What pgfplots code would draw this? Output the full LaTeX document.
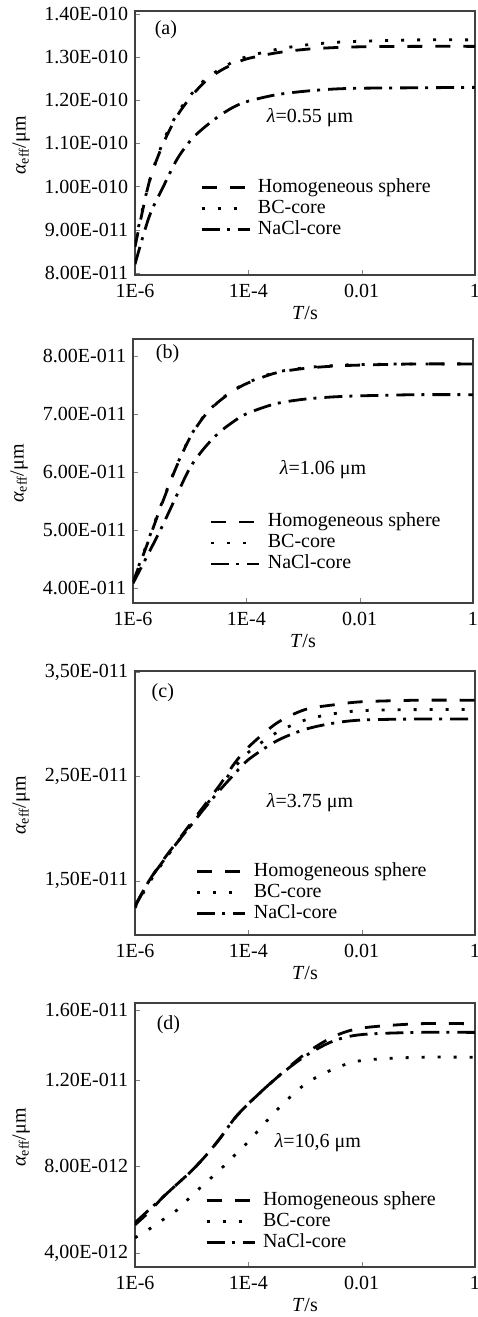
\documentclass[border=0pt]{standalone}
\usepackage{fontspec}
\setmainfont{Liberation Serif}
\usepackage{pgfplots}
\usepackage{pgfplotstable}
\pgfplotsset{compat=1.18}

\pgfplotstableread{
T hom bc nacl
1e-6 0.86 0.87 0.82
1.778e-6 1.01 1.01 0.93
3.162e-6 1.10 1.105 1.00
5.623e-6 1.165 1.17 1.065
1e-5 1.21 1.215 1.11
1.778e-5 1.245 1.25 1.14
3.162e-5 1.268 1.272 1.165
5.623e-5 1.285 1.29 1.185
1e-4 1.297 1.302 1.198
3.162e-4 1.31 1.318 1.213
1e-3 1.318 1.328 1.221
3.162e-3 1.322 1.334 1.226
1e-2 1.324 1.337 1.228
1e-1 1.325 1.34 1.229
1 1.325 1.34 1.23
}\dataA

\pgfplotstableread{
T hom bc nacl
1e-6 4.10 4.12 4.08
1.778e-6 4.75 4.77 4.55
3.162e-6 5.42 5.44 5.03
5.623e-6 6.05 6.06 5.55
1e-5 6.58 6.59 6.06
1.778e-5 6.95 6.96 6.40
3.162e-5 7.20 7.21 6.66
5.623e-5 7.38 7.39 6.85
1e-4 7.52 7.53 7.00
3.162e-4 7.70 7.71 7.17
1e-3 7.78 7.79 7.25
3.162e-3 7.82 7.83 7.29
1e-2 7.84 7.85 7.31
1e-1 7.86 7.86 7.33
1 7.86 7.86 7.33
}\dataB

\pgfplotstableread{
T hom bc nacl
1e-6 1.25 1.24 1.26
1.778e-6 1.50 1.48 1.50
3.162e-6 1.70 1.68 1.69
5.623e-6 1.88 1.87 1.87
1e-5 2.06 2.04 2.04
1.778e-5 2.24 2.22 2.21
3.162e-5 2.42 2.40 2.37
5.623e-5 2.62 2.58 2.52
1e-4 2.78 2.73 2.66
3.162e-4 3.01 2.92 2.84
1e-3 3.14 3.04 2.95
3.162e-3 3.185 3.10 3.01
1e-2 3.215 3.13 3.04
1e-1 3.23 3.14 3.05
1 3.23 3.14 3.05
}\dataC

\pgfplotstableread{
T hom bc nacl
1e-6 0.53 0.47 0.54
1.778e-6 0.59 0.51 0.60
3.162e-6 0.66 0.555 0.66
5.623e-6 0.72 0.60 0.72
1e-5 0.78 0.665 0.78
1.778e-5 0.85 0.725 0.85
3.162e-5 0.93 0.785 0.93
5.623e-5 1.02 0.85 1.02
1e-4 1.09 0.915 1.09
3.162e-4 1.21 1.06 1.21
1e-3 1.32 1.18 1.31
3.162e-3 1.40 1.25 1.38
1e-2 1.44 1.29 1.41
1e-1 1.46 1.305 1.42
1 1.46 1.305 1.42
}\dataD

\tikzset{
  homog/.style={line width=2.8pt, black, dash pattern=on 15pt off 13pt},
  bcs/.style={line width=2.8pt, black, dash pattern=on 3pt off 13pt},
  nacl/.style={line width=2.8pt, black, dash pattern=on 18pt off 7pt on 3pt off 8pt},
}
\pgfplotsset{
  legend image code/.code={\draw[#1] (0pt,0pt) -- (48pt,0pt);},
}

\begin{document}
\fontsize{20}{24}\selectfont
\begin{tikzpicture}[font=\fontsize{20}{24}\selectfont]
\pgfplotsset{
  every axis/.append style={
    scale only axis, width=340pt, height=264pt,
    xmin=1e-6, xmax=1,
    xtick={1e-6,1e-4,1e-2,1}, xticklabels={1E-6,1E-4,0.01,1},
    xminorticks=false, yminorticks=false,
    tick pos=left, tick align=inside, major tick length=5pt,
    axis line style={line width=1.2pt, black!75},
    xticklabel style={yshift=-2pt},
    xlabel={\textit{T}/s}, ylabel={\textit{α}\textsubscript{eff}/μm},
    xlabel style={at={(axis description cs:0.5,-0.144)}, anchor=center},
    ylabel style={at={(axis description cs:-0.335,0.49)}, anchor=center},
    legend cell align=left,
    legend style={draw=none, fill=none, inner sep=0pt, row sep=0pt, column sep=6pt,
      font=\fontsize{20}{24}\selectfont,
      nodes={inner sep=1pt, text height=14pt, text depth=5pt}},
  },
}

% (a)
\begin{semilogxaxis}[at={(135pt,1042pt)}, anchor=south west,
  ymin=0.795, ymax=1.407,
  ytick={0.8,0.9,1.0,1.1,1.2,1.3,1.4},
  yticklabels={8.00E-011,9.00E-011,1.00E-010,1.10E-010,1.20E-010,1.30E-010,1.40E-010},
  legend style={at={(axis description cs:0.191,0.371)}, anchor=north west}]
\addplot[homog, smooth] table[x=T,y=hom]{\dataA};
\addplot[bcs, smooth] table[x=T,y=bc]{\dataA};
\addplot[nacl, smooth] table[x=T,y=nacl]{\dataA};
\legend{Homogeneous sphere, BC-core, NaCl-core}
\node[anchor=west] at (axis description cs:0.038,0.928) {(a)};
\node[anchor=west] at (axis description cs:0.368,0.595) {\textit{λ}=0.55 μm};
\end{semilogxaxis}

% (b)
\begin{semilogxaxis}[at={(133pt,714pt)}, anchor=south west,
  ymin=3.74, ymax=8.29,
  ytick={4,5,6,7,8},
  yticklabels={4.00E-011,5.00E-011,6.00E-011,7.00E-011,8.00E-011},
  legend style={at={(axis description cs:0.226,0.347)}, anchor=north west}]
\addplot[homog, smooth] table[x=T,y=hom]{\dataB};
\addplot[bcs, smooth] table[x=T,y=bc]{\dataB};
\addplot[nacl, smooth] table[x=T,y=nacl]{\dataB};
\legend{Homogeneous sphere, BC-core, NaCl-core}
\node[anchor=west] at (axis description cs:0.047,0.943) {(b)};
\node[anchor=west] at (axis description cs:0.412,0.506) {\textit{λ}=1.06 μm};
\end{semilogxaxis}

% (c)
\begin{semilogxaxis}[at={(135pt,382pt)}, anchor=south west,
  ymin=0.98, ymax=3.51,
  ytick={1.5,2.5,3.5},
  yticklabels={{1,50E-011},{2,50E-011},{3,50E-011}},
  legend style={at={(axis description cs:0.179,0.28)}, anchor=north west}]
\addplot[homog, smooth] table[x=T,y=hom]{\dataC};
\addplot[bcs, smooth] table[x=T,y=bc]{\dataC};
\addplot[nacl, smooth] table[x=T,y=nacl]{\dataC};
\legend{Homogeneous sphere, BC-core, NaCl-core}
\node[anchor=west] at (axis description cs:0.029,0.917) {(c)};
\node[anchor=west] at (axis description cs:0.368,0.5) {\textit{λ}=3.75 μm};
\end{semilogxaxis}

% (d)
\begin{semilogxaxis}[at={(135pt,50pt)}, anchor=south west,
  ymin=0.335, ymax=1.556,
  ytick={0.4,0.8,1.2,1.525},
  yticklabels={{4,00E-012},8.00E-012,1.20E-011,1.60E-011},
  legend style={at={(axis description cs:0.206,0.292)}, anchor=north west}]
\addplot[homog, smooth] table[x=T,y=hom]{\dataD};
\addplot[bcs, smooth] table[x=T,y=bc]{\dataD};
\addplot[nacl, smooth] table[x=T,y=nacl]{\dataD};
\legend{Homogeneous sphere, BC-core, NaCl-core}
\node[anchor=west] at (axis description cs:0.044,0.917) {(d)};
\node[anchor=west] at (axis description cs:0.391,0.473) {\textit{λ}=10,6 μm};
\end{semilogxaxis}
\pgfresetboundingbox
\useasboundingbox (0pt,0pt) rectangle (478pt,1317pt);
\end{tikzpicture}
\end{document}
